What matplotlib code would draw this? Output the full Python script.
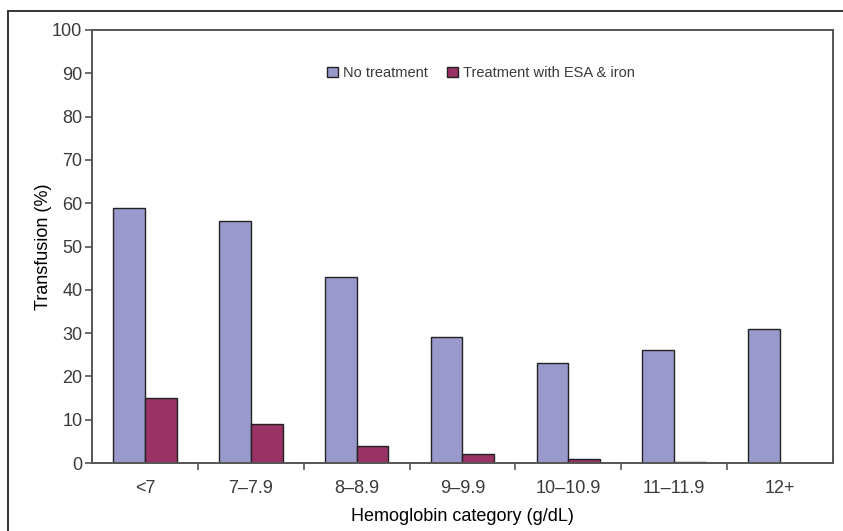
import numpy as np
from matplotlib import pyplot as plt
from matplotlib.patches import Rectangle

categories = ["<7", "7\u20137.9", "8\u20138.9", "9\u20139.9", "10\u201310.9", "11\u201311.9", "12+"]
no_treatment = [59, 56, 43, 29, 23, 26, 31]
esa_iron = [15, 9, 4, 2, 1, 0.3, 0]
series_labels = ["No treatment", "Treatment with ESA & iron"]

BLUE = "#9999cc"
PLUM = "#993366"
EDGE = "#222222"
AXIS = "#555555"
TEXT = "#3a3a3a"
BAR_WIDTH = 0.3
TICK_SIZE = 13
LABEL_SIZE = 13

plt.rcParams["font.family"] = ["Liberation Sans", "DejaVu Sans"]
plt.rcParams["text.color"] = TEXT

fig = plt.figure(figsize=(8.43, 5.31), dpi=100)
ax = fig.add_axes([92 / 843, 1 - 463 / 531, (833 - 92) / 843, (463 - 30) / 531])

# outer frame, only its left and top edges fall inside the figure
fig.patches.append(Rectangle((8 / 843, -0.1), 1.2, 1.1 - 11 / 531, transform=fig.transFigure,
                             fill=False, edgecolor="#333333", linewidth=1.4))

x = np.arange(len(categories))
ax.bar(x - BAR_WIDTH / 2, no_treatment, BAR_WIDTH, color=BLUE, edgecolor=EDGE,
       linewidth=1.0, label=series_labels[0])
ax.bar(x + BAR_WIDTH / 2, esa_iron, BAR_WIDTH, color=PLUM, edgecolor=EDGE,
       linewidth=1.0, label=series_labels[1])

ax.set_xlim(-0.5, len(categories) - 0.5)
ax.set_ylim(0, 100)
ax.set_yticks(range(0, 101, 10))
ax.set_xticks(x)
ax.set_xticklabels(categories, fontsize=TICK_SIZE, color=TEXT)
ax.tick_params(axis="x", length=0, pad=12)
ax.set_xticks(np.arange(0.5, len(categories) - 1, 1), minor=True)
ax.tick_params(axis="x", which="minor", length=5, width=1.2, color=AXIS, direction="out")
ax.tick_params(axis="y", length=5, width=1.2, color=AXIS, labelsize=TICK_SIZE,
               labelcolor=TEXT, pad=2)

for side in ["left", "bottom", "top", "right"]:
    ax.spines[side].set_color(AXIS)
    ax.spines[side].set_linewidth(1.4)

ax.set_ylabel("Transfusion (%)", fontsize=LABEL_SIZE, labelpad=0)
ax.set_xlabel("Hemoglobin category (g/dL)", fontsize=LABEL_SIZE, labelpad=8)

ax.legend(loc="center", bbox_to_anchor=(0.525, 1 - (73 - 30) / 433), ncol=2, frameon=False,
          fontsize=10.5, handlelength=0.75, handleheight=0.75, handletextpad=0.35,
          columnspacing=1.3, borderpad=0)

fig.savefig("out.png", dpi=100)
